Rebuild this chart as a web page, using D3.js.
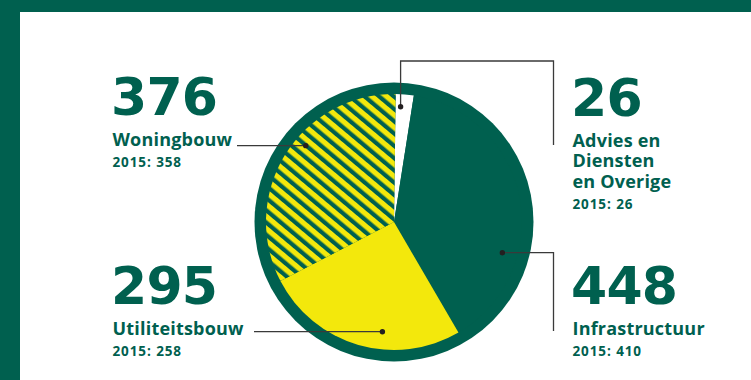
<!DOCTYPE html>
<html>
<head>
<meta charset="utf-8">
<script src="https://cdn.jsdelivr.net/npm/d3@7"></script>
<style>
  html, body { margin: 0; padding: 0; background: #fff; }
  svg { display: block; }
</style>
</head>
<body>
<svg id="chart" width="751" height="380"></svg>
<script>
// ---- data ----
const categories = ["Advies en Diensten en Overige", "Infrastructuur", "Utiliteitsbouw", "Woningbouw"];
const values2016 = [26, 448, 295, 376];
const values2015 = [26, 410, 258, 358];
const labelLines = [["Advies en", "Diensten", "en Overige"], ["Infrastructuur"], ["Utiliteitsbouw"], ["Woningbouw"]];
const prevYear = "2015";

// ---- style / layout ----
const GREEN = "#00604f", YELLOW = "#f3e80c", LINE = "#3a3a3a", DOT = "#231f20";
const cx = 394, cy = 222, rInner = 128, rOuter = 139.5;
const startOffset = 0.74 * Math.PI / 180;
const fills = ["#ffffff", GREEN, YELLOW, "url(#hatch)"];
// where the leader dot sits inside each slice (fraction of slice angle, radius)
const dotPos = [[0.31, 115.5], [0.688, 112.6], [0.391, 110.3], [0.578, 116.7]];
// label blocks: x, number baseline
const labelPos = [
  {x: 571, y: 115.5},
  {x: 571, y: 304},
  {x: 111, y: 304},
  {x: 111, y: 115}
];

const svg = d3.select("#chart");

// frame
svg.append("rect").attr("x", 0).attr("y", 0).attr("width", 751).attr("height", 12).attr("fill", GREEN);
svg.append("rect").attr("x", 0).attr("y", 0).attr("width", 20).attr("height", 380).attr("fill", GREEN);

// hatch pattern
const defs = svg.append("defs");
const PER = 9.4;
const pat = defs.append("pattern").attr("id", "hatch")
  .attr("patternUnits", "userSpaceOnUse").attr("width", 20).attr("height", PER)
  .attr("patternTransform", "rotate(40)");
pat.append("rect").attr("width", 20).attr("height", PER).attr("fill", GREEN);
pat.append("rect").attr("y", 0).attr("width", 20).attr("height", 5.2).attr("fill", YELLOW);

const g = svg.append("g").attr("transform", `translate(${cx},${cy})`);
g.append("circle").attr("r", rOuter).attr("fill", GREEN);

const pie = d3.pie().sort(null).value(d => d)
  .startAngle(startOffset).endAngle(2 * Math.PI + startOffset);
const arcs = pie(values2016);
const arc = d3.arc().innerRadius(0).outerRadius(rInner);

g.selectAll("path.slice").data(arcs).join("path")
  .attr("class", "slice")
  .attr("d", arc)
  .attr("fill", (d, i) => fills[i]);

// leader dots
const dots = arcs.map((a, i) => {
  const ang = a.startAngle + (a.endAngle - a.startAngle) * dotPos[i][0];
  const r = dotPos[i][1];
  return [cx + r * Math.sin(ang), cy - r * Math.cos(ang)];
});

const colX = 553.5;
const routes = [
  [dots[0], [dots[0][0], 61], [colX, 61], [colX, 145]],
  [dots[1], [colX, dots[1][1]], [colX, 331]],
  [dots[2], [254, dots[2][1]]],
  [dots[3], [237, dots[3][1]]]
];
svg.selectAll("path.leader").data(routes).join("path")
  .attr("class", "leader")
  .attr("d", d => d3.line()(d))
  .attr("fill", "none").attr("stroke", LINE).attr("stroke-width", 1.3);
svg.selectAll("circle.dot").data(dots).join("circle")
  .attr("class", "dot")
  .attr("cx", d => d[0]).attr("cy", d => d[1]).attr("r", 2.7).attr("fill", DOT);

// labels
const fmt = d3.format("d");
labelPos.forEach((p, i) => {
  const t = svg.append("g").attr("fill", GREEN);
  t.append("text").attr("x", p.x).attr("y", p.y)
    .attr("font-family", "'DejaVu Sans', sans-serif").attr("font-weight", 700)
    .attr("font-size", 52).attr("letter-spacing", -0.8)
    .text(fmt(values2016[i]));
  const lbl = t.append("text").attr("x", p.x + 1.5).attr("y", p.y + 31.2)
    .attr("font-family", "'Open Sans', sans-serif").attr("font-weight", 700)
    .attr("font-size", 18).attr("letter-spacing", 0.2);
  labelLines[i].forEach((line, j) => {
    lbl.append("tspan").attr("x", p.x + 1.5).attr("dy", j === 0 ? 0 : 20.7).text(line);
  });
  const y = p.y + 31.2 + (labelLines[i].length - 1) * 20.7 + 21;
  t.append("text").attr("x", p.x + 1.5).attr("y", y)
    .attr("font-family", "'Open Sans', sans-serif").attr("font-weight", 700)
    .attr("font-size", 13.5).attr("letter-spacing", 0.9)
    .text(`${prevYear}: ${fmt(values2015[i])}`);
});
</script>
</body>
</html>
